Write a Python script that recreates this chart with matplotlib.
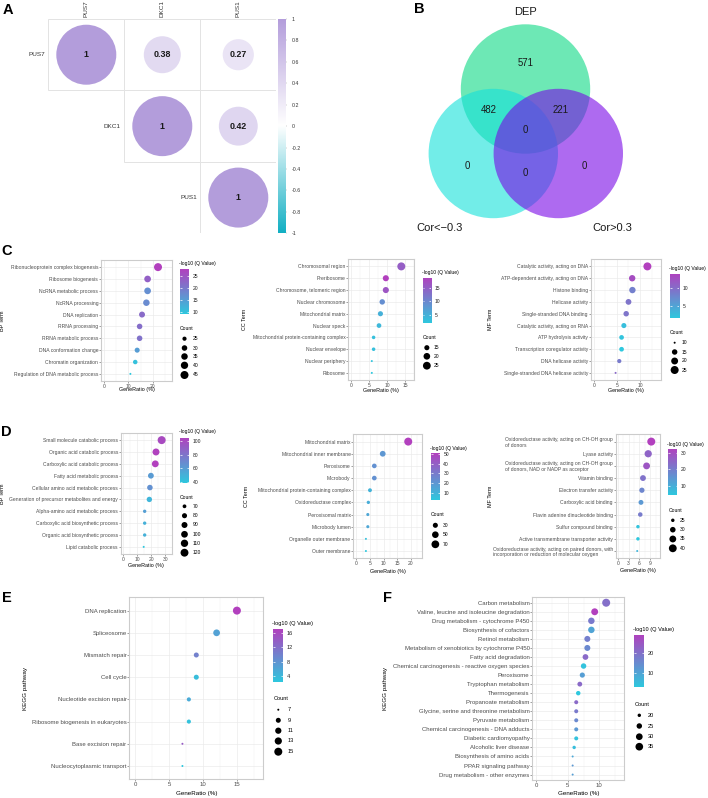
import numpy as np
import matplotlib
matplotlib.use("Agg")
import matplotlib.pyplot as plt
from matplotlib.colors import LinearSegmentedColormap
from matplotlib.patches import Circle, Rectangle
from matplotlib.ticker import MultipleLocator

plt.rcParams['font.family'] = ['Liberation Sans', 'DejaVu Sans']

W, H = 708, 798

# ---------------- A: correlation of the three genes ----------------
genes = ["PUS7", "DKC1", "PUS1"]
cor = [[1.00, 0.38, 0.27],
       [0.38, 1.00, 0.42],
       [0.27, 0.42, 1.00]]
cor_ticks = [1, 0.8, 0.6, 0.4, 0.2, 0, -0.2, -0.4, -0.6, -0.8, -1]

# ---------------- B: venn ----------------
venn_labels = ["DEP", "Cor<\u22120.3", "Cor>0.3"]
venn_counts = [571, 482, 221, 0, 0, 0, 0]   # DEP, DEP&neg, DEP&pos, all, neg, neg&pos, pos

# ---------------- C: GO of first set ----------------
c_bp_terms = ["Ribonucleoprotein complex biogenesis", "Ribosome biogenesis",
              "NcRNA metabolic process", "NcRNA processing", "DNA replication",
              "RRNA processing", "RRNA metabolic process", "DNA conformation change",
              "Chromatin organization", "Regulation of DNA metabolic process"]
c_bp_ratio = [22.2, 17.9, 17.9, 17.4, 15.6, 14.6, 14.6, 13.6, 12.8, 10.8]
c_bp_q = [28.0, 23.5, 17.0, 17.5, 22.0, 21.5, 21.0, 15.0, 10.0, 9.0]
c_bp_count = [45, 36, 36, 35, 32, 30, 30, 28, 26, 22]

c_cc_terms = ["Chromosomal region", "Preribosome", "Chromosome, telomeric region",
              "Nuclear chromosome", "Mitochondrial matrix", "Nuclear speck",
              "Mitochondrial protein-containing complex", "Nuclear envelope",
              "Nuclear periphery", "Ribosome"]
c_cc_ratio = [13.9, 9.6, 9.6, 8.6, 8.1, 7.7, 6.2, 6.2, 5.7, 5.7]
c_cc_q = [15.0, 18.7, 16.0, 9.0, 5.0, 4.0, 3.0, 3.0, 2.5, 2.0]
c_cc_count = [26, 18, 18, 16, 15, 14, 12, 12, 11, 11]

c_mf_terms = ["Catalytic activity, acting on DNA", "ATP-dependent activity, acting on DNA",
              "Histone binding", "Helicase activity", "Single-stranded DNA binding",
              "Catalytic activity, acting on RNA", "ATP hydrolysis activity",
              "Transcription coregulator activity", "DNA helicase activity",
              "Single-stranded DNA helicase activity"]
c_mf_ratio = [11.6, 8.3, 8.35, 7.5, 7.0, 6.5, 6.0, 6.0, 5.5, 4.7]
c_mf_q = [13.7, 12.5, 8.0, 9.0, 9.0, 2.5, 2.0, 1.6, 8.5, 10.0]
c_mf_count = [25, 18, 18, 16, 15, 14, 13, 13, 12, 10]

# ---------------- D: GO of second set ----------------
d_bp_terms = ["Small molecule catabolic process", "Organic acid catabolic process",
              "Carboxylic acid catabolic process", "Fatty acid metabolic process",
              "Cellular amino acid metabolic process",
              "Generation of precursor metabolites and energy",
              "Alpha-amino acid metabolic process", "Carboxylic acid biosynthetic process",
              "Organic acid biosynthetic process", "Lipid catabolic process"]
d_bp_ratio = [27.3, 23.3, 22.8, 19.7, 19.0, 18.6, 15.3, 15.3, 15.3, 14.6]
d_bp_q = [100, 104, 105, 60, 65, 47, 58, 50, 50, 38]
d_bp_count = [122, 104, 102, 88, 85, 83, 68, 68, 68, 65]

d_cc_terms = ["Mitochondrial matrix", "Mitochondrial inner membrane", "Peroxisome",
              "Microbody", "Mitochondrial protein-containing complex",
              "Oxidoreductase complex", "Peroxisomal matrix", "Microbody lumen",
              "Organelle outer membrane", "Outer membrane"]
d_cc_ratio = [19.1, 9.7, 6.6, 6.6, 5.0, 4.4, 4.2, 4.2, 3.5, 3.5]
d_cc_q = [50.7, 20, 22, 22, 10, 12, 14, 14, 5, 2.5]
d_cc_count = [75, 38, 26, 26, 20, 17, 16, 16, 14, 14]

d_mf_terms = ["Oxidoreductase activity, acting on CH-OH group\nof donors",
              "Lyase activity",
              "Oxidoreductase activity, acting on CH-OH group\nof donors, NAD or NADP as acceptor",
              "Vitamin binding", "Electron transfer activity", "Carboxylic acid binding",
              "Flavin adenine dinucleotide binding", "Sulfur compound binding",
              "Active transmembrane transporter activity",
              "Oxidoreductase activity, acting on paired donors, with\nincorporation or reduction of molecular oxygen"]
d_mf_ratio = [9.3, 8.45, 8.0, 7.0, 6.7, 6.45, 6.25, 5.6, 5.6, 5.4]
d_mf_q = [32.7, 25, 28, 22, 18, 14, 20, 5, 4, 8]
d_mf_count = [41, 37, 35, 31, 29, 28, 27, 25, 25, 24]

# ---------------- E / F: KEGG ----------------
e_terms = ["DNA replication", "Spliceosome", "Mismatch repair", "Cell cycle",
           "Nucleotide excision repair", "Ribosome biogenesis in eukaryotes",
           "Base excision repair", "Nucleocytoplasmic transport"]
e_ratio = [15.0, 12.0, 9.0, 9.0, 7.9, 7.9, 6.95, 6.95]
e_q = [17.1, 6.5, 10.0, 3.5, 5.5, 3.0, 14.0, 2.3]
e_count = [15, 12, 9, 9, 8, 8, 7, 7]

f_terms = ["Carbon metabolism", "Valine, leucine and isoleucine degradation",
           "Drug metabolism - cytochrome P450", "Biosynthesis of cofactors",
           "Retinol metabolism", "Metabolism of xenobiotics by cytochrome P450",
           "Fatty acid degradation", "Chemical carcinogenesis - reactive oxygen species",
           "Peroxisome", "Tryptophan metabolism", "Thermogenesis",
           "Propanoate metabolism", "Glycine, serine and threonine metabolism",
           "Pyruvate metabolism", "Chemical carcinogenesis - DNA adducts",
           "Diabetic cardiomyopathy", "Alcoholic liver disease",
           "Biosynthesis of amino acids", "PPAR signaling pathway",
           "Drug metabolism - other enzymes"]
f_ratio = [11.1, 9.27, 8.74, 8.74, 8.1, 8.1, 7.8, 7.5, 7.3, 6.9, 6.65,
           6.33, 6.33, 6.33, 6.33, 6.33, 6.0, 5.76, 5.76, 5.76]
f_q = [20, 29, 18, 10, 17, 15, 21, 4, 11, 21, 3, 21, 18, 15, 12, 4, 5, 9, 12, 11]
f_count = [37, 31, 29, 29, 27, 27, 26, 25, 24, 23, 22, 21, 21, 21, 21, 21, 20, 19, 19, 19]

cmap_go = LinearSegmentedColormap.from_list("go", ["#2EC8DE", "#B240BE"])
cmap_cor = LinearSegmentedColormap.from_list("cor", ["#12AFC3", "#FFFFFF", "#B39DDB"])

fig = plt.figure(figsize=(W / 100, H / 100), dpi=100)


def frac(x0, y0, x1, y1):
    return [x0 / W, 1 - y1 / H, (x1 - x0) / W, (y1 - y0) / H]


ov = fig.add_axes([0, 0, 1, 1], zorder=10)
ov.set_xlim(0, W)
ov.set_ylim(H, 0)
ov.axis("off")
ov.patch.set_visible(False)

DMIN, DMAX = 2.0, 8.0


def dot_s(v, lo, hi):
    v = np.asarray(v, dtype=float)
    t = np.clip((v - lo) / (hi - lo), 0, 1)
    d = DMIN + (DMAX - DMIN) * np.sqrt(t)
    return (d * 0.72) ** 2


def dot_panel(rect, terms, ratio, qv, cnt, ylab, xticks, cticks, sticks, lay, fs, fl, ml=False):
    ax = fig.add_axes(frac(*rect))
    n = len(terms)
    y = np.arange(n)
    lo, hi = min(cnt), max(cnt)
    ax.scatter(ratio, y, s=dot_s(cnt, lo, hi), c=qv, cmap=cmap_go,
               vmin=min(qv), vmax=max(qv), linewidths=0, zorder=3)
    top = max(ratio) * 1.2
    ax.set_xlim(-0.05 * top, 1.05 * top)
    ax.set_ylim(n - 1 + 0.6, -0.6)
    ax.set_xticks(xticks)
    ax.set_yticks(y)
    ax.set_yticklabels(terms, multialignment="left" if ml else "right")
    step = xticks[1] - xticks[0]
    ax.xaxis.set_minor_locator(MultipleLocator(step / 2))
    ax.grid(True, which="major", color="#EBEBEB", lw=0.5)
    ax.grid(True, which="minor", axis="x", color="#F2F2F2", lw=0.35)
    ax.set_axisbelow(True)
    ax.tick_params(which="major", length=1.2, width=0.4, color="#555555",
                   labelsize=fs, labelcolor="#4D4D4D", pad=0.8)
    ax.tick_params(which="minor", length=0)
    for sp in ax.spines.values():
        sp.set_color("#CCCCCC")
        sp.set_linewidth(0.8)
    x0, y0, x1, y1 = rect
    ov.text((x0 + x1) / 2, lay["xl"], "GeneRatio (%)", ha="center", va="center",
            fontsize=fs + 0.2)
    ov.text(lay["yl"], (y0 + y1) / 2, ylab, ha="center", va="center", rotation=90,
            fontsize=fs + 0.2)
    # colour bar
    cx0, cy0, cx1, cy1 = lay["cb"]
    cax = fig.add_axes(frac(cx0, cy0, cx1, cy1))
    qmin, qmax = min(qv), max(qv)
    cax.imshow(np.linspace(qmax, qmin, 256).reshape(-1, 1), aspect="auto", cmap=cmap_go,
               extent=[0, 1, qmin, qmax], vmin=qmin, vmax=qmax)
    cax.set_xlim(0, 1)
    cax.set_ylim(qmin, qmax)
    cax.set_xticks([])
    cax.set_yticks(cticks)
    cax.yaxis.tick_right()
    cax.tick_params(axis="y", length=0, pad=2.6, labelsize=fl, labelcolor="#222222")
    cax.hlines(cticks, 0, 0.2, color="white", lw=0.5)
    cax.hlines(cticks, 0.8, 1, color="white", lw=0.5)
    for sp in cax.spines.values():
        sp.set_visible(False)
    ov.text(cx0 - 1, lay["ct"], "-log10 (Q Value)", ha="left", va="center", fontsize=fl)
    # size legend
    ov.text(cx0, lay["st"], "Count", ha="left", va="center", fontsize=fl)
    xd = (cx0 + cx1) / 2
    ov.scatter([xd] * len(sticks), lay["sy"], s=dot_s(sticks, lo, hi), c="black", lw=0)
    for v, yy in zip(sticks, lay["sy"]):
        ov.text(lay["sx"], yy, str(v), ha="left", va="center", fontsize=fl)
    return ax


FS_S, FL_S = 3.65, 3.6
FS_L, FL_L = 4.3, 4.1

dot_panel((101, 260, 172, 381), c_bp_terms, c_bp_ratio, c_bp_q, c_bp_count, "BP Term",
          [0, 10, 20], [10, 15, 20, 25], [25, 30, 35, 40, 45],
          dict(xl=390, yl=3, cb=(180, 269, 189, 314), ct=264, st=329,
               sy=[338.7, 348, 356.5, 365.3, 375], sx=193), FS_S, FL_S)
dot_panel((348.3, 259.3, 414.3, 380), c_cc_terms, c_cc_ratio, c_cc_q, c_cc_count, "CC Term",
          [0, 5, 10, 15], [5, 10, 15], [15, 20, 25],
          dict(xl=390.7, yl=245, cb=(422.7, 277.7, 431, 323.3), ct=272.7, st=337.3,
               sy=[347.7, 356.3, 365.7], sx=434), FS_S, FL_S)
dot_panel((590.7, 259.3, 661.3, 380), c_mf_terms, c_mf_ratio, c_mf_q, c_mf_count, "MF Term",
          [0, 5, 10], [5, 10], [10, 15, 20, 25],
          dict(xl=390.7, yl=490.7, cb=(670, 274, 679.3, 318.3), ct=268.3, st=332.7,
               sy=[342.7, 352, 361, 370], sx=682), FS_S, FL_S)

dot_panel((120.7, 433, 171.7, 554), d_bp_terms, d_bp_ratio, d_bp_q, d_bp_count, "BP Term",
          [0, 10, 20, 30], [40, 60, 80, 100], [70, 80, 90, 100, 110, 120],
          dict(xl=565, yl=3, cb=(180, 437.7, 189, 483.3), ct=431.7, st=497.3,
               sy=[506.3, 515.7, 525, 534.3, 543.3, 552.7], sx=192.7), FS_S, FL_S)
dot_panel((353.3, 434.3, 421.7, 558.3), d_cc_terms, d_cc_ratio, d_cc_q, d_cc_count, "CC Term",
          [0, 5, 10, 15, 20], [10, 20, 30, 40, 50], [30, 50, 70],
          dict(xl=571.7, yl=246, cb=(431, 453.3, 439.7, 500.3), ct=448.7, st=515,
               sy=[525.3, 534.7, 544.3], sx=443), FS_S, FL_S)
dot_panel((615.7, 434.3, 660, 558.3), d_mf_terms, d_mf_ratio, d_mf_q, d_mf_count, "MF Term",
          [0, 3, 6, 9], [10, 20, 30], [25, 30, 35, 40],
          dict(xl=570.7, yl=490, cb=(668.3, 449, 677.3, 495.3), ct=444.3, st=510,
               sy=[520.3, 529.7, 539, 548.3], sx=680), FS_S, FL_S, ml=True)

dot_panel((129.3, 597.3, 263.3, 779.3), e_terms, e_ratio, e_q, e_count, "KEGG pathway",
          [0, 5, 10, 15], [4, 8, 12, 16], [7, 9, 11, 13, 15],
          dict(xl=793, yl=25, cb=(273.3, 629.3, 283.3, 681.7), ct=623.3, st=698.3,
               sy=[709.7, 720.3, 730.7, 741, 751.7], sx=287.3), FS_L, FL_L)
dot_panel((532.3, 597.3, 624.3, 780), f_terms, f_ratio, f_q, f_count, "KEGG pathway",
          [0, 5, 10], [10, 20], [20, 25, 30, 35],
          dict(xl=793.3, yl=386, cb=(634.3, 635, 644.3, 687.3), ct=629, st=704,
               sy=[715.3, 726, 736.7, 746.7], sx=647.7), FS_L, FL_L)

# ---------------- panel A ----------------
axA = fig.add_axes(frac(48.3, 19, 276.3, 233.3))
axA.set_xlim(0, 3)
axA.set_ylim(3, 0)
axA.axis("off")
cm = np.array(cor)
ri, rj = np.triu_indices(3)
for i, j in zip(ri, rj):
    axA.add_patch(Rectangle((j, i), 1, 1, fill=False, ec="#E3E3E3", lw=0.7))
vals = cm[ri, rj]
axA.scatter(rj + 0.5, ri + 0.5, s=((60 * np.sqrt(np.abs(vals))) * 0.72) ** 2, c=vals,
            cmap=cmap_cor, vmin=-1, vmax=1, lw=0, zorder=3)
for i, j in zip(ri, rj):
    v = cm[i, j]
    txt = "1" if v == 1 else f"{v:.2f}"
    axA.text(j + 0.5, i + 0.5, txt, ha="center", va="center", fontsize=6.4,
             fontweight="bold", color="#1a1a1a", zorder=4)
for k, g in enumerate(genes):
    axA.text(k - 0.045, k + 0.5, g, ha="right", va="center", fontsize=4.6, color="#333333")
    axA.text(k + 0.5, -0.03, g, ha="center", va="bottom", rotation=90, fontsize=4.6,
             color="#333333")
caxA = fig.add_axes(frac(278, 19, 286, 233.3))
caxA.imshow(np.linspace(1, -1, 256).reshape(-1, 1), aspect="auto", cmap=cmap_cor,
            extent=[0, 1, -1, 1], vmin=-1, vmax=1)
caxA.set_xlim(0, 1)
caxA.set_ylim(-1, 1)
caxA.set_xticks([])
caxA.set_yticks(cor_ticks)
caxA.set_yticklabels([f"{t:g}" for t in cor_ticks])
caxA.yaxis.tick_right()
caxA.tick_params(axis="y", length=1, width=0.3, color="#999999", pad=3,
                 labelsize=3.8, labelcolor="#333333")
for sp in caxA.spines.values():
    sp.set_visible(False)

# ---------------- panel B: venn ----------------
venn_circles = [((525.5, 89), "#0CD984"), ((493.3, 153.5), "#14E1DA"), ((558.3, 153.5), "#7807E6")]
for (cx, cy), col in venn_circles:
    ov.add_patch(Circle((cx, cy), 64.7, fc=col, alpha=0.6, lw=0, zorder=1))
venn_pos = [(525.7, 63), (489, 110.3), (561, 110.3), (525.7, 130), (467, 166.3),
            (525.7, 173.3), (584, 166.3)]
for (x, yv), n in zip(venn_pos, venn_counts):
    ov.text(x, yv, str(n), ha="center", va="center", fontsize=6.9, color="#1a1a1a", zorder=2)
for (x, yv), lab in zip([(525.7, 12), (440, 228), (612, 228)], venn_labels):
    ov.text(x, yv, lab, ha="center", va="center", fontsize=8, color="#1a1a1a")

# ---------------- panel letters ----------------
for lab, (x, yv) in zip("ABCDEF", [(8, 10), (419, 9), (7, 251), (6, 432), (7, 598), (388, 598)]):
    ov.text(x, yv, lab, ha="center", va="center", fontsize=10.5, fontweight="bold")

fig.savefig("out.png", dpi=100)
